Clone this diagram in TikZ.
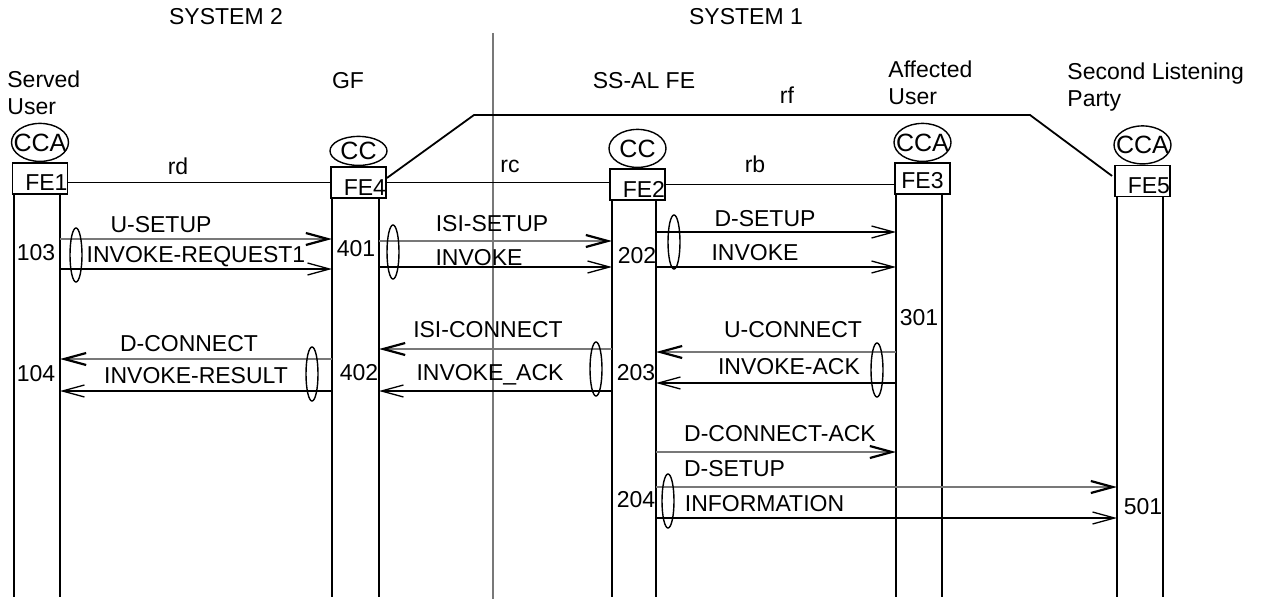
\documentclass[tikz,border=0pt]{standalone}
\usepackage{fontspec}
\setmainfont{Liberation Sans}
\usetikzlibrary{arrows.meta,positioning,shapes.geometric}
\definecolor{SigGray}{RGB}{120,120,120}
\begin{document}
\begin{tikzpicture}[x=0.5pt,y=-0.5pt,font=\fontsize{11.5}{13.5}\selectfont,
  fe/.style={draw,line width=0.9pt,minimum width=27.5pt,minimum height=15.5pt,inner sep=0pt,text width=27.5pt,align=right,text height=12.5pt,text depth=0pt},
  fa/.style={draw,ellipse,line width=0.7pt,inner sep=0pt,minimum width=28.5pt,minimum height=19pt},
  lbl/.style={inner sep=0pt,text height=8pt,text depth=0pt},
  big/.style={lbl,font=\fontsize{12.5}{15}\selectfont,text height=9pt},
  hdr/.style={inner sep=0pt,anchor=north west,align=left},
  life/.style={line width=0.8pt},link/.style={line width=0.9pt},
  sig/.style={line width=0.65pt,-{Straight Barb[length=11pt,width=6pt,black]}},
  sigg/.style={sig,SigGray,line width=1.1pt},
  grp/.style={draw,ellipse,line width=0.7pt,inner sep=0pt,minimum width=6pt,minimum height=27pt}]
\useasboundingbox (0,0) rectangle (1263,599);
\node[lbl] (sys2) at (226,17) {SYSTEM 2};\node[lbl] (sys1) at (746,17) {SYSTEM 1};
\node[hdr] (served) at (7,70) {Served\\User};\node[lbl] (gf) at (348,81) {GF};\node[lbl] (ssal) at (644,81) {SS-AL FE};
\node[hdr] (affected) at (888,60) {Affected\\User};\node[hdr] (second) at (1067,62) {Second Listening\\Party};
\draw[SigGray,line width=1.1pt] (493,33) -- (493,599);
\node[fe] (fe1) at (40,178.5) {FE1};\node[fe] (fe4) at (358.5,182.5) {FE4};\node[fe] (fe2) at (637.5,184.5) {FE2};
\node[fe,align=center,text height=9.5pt] (fe3) at (922.5,178.5) {FE3};\node[fe,text height=12pt] (fe5) at (1142.5,181) {FE5};
\node[fa,above=0pt of fe1,label={[big]center:CCA}] (cca1) {};\node[fa,minimum height=14.5pt,above=0pt of fe4,label={[big]center:CC}] (cc4) {};
\node[fa,above=0pt of fe2,label={[big]center:CC}] (cc2) {};\node[fa,above=0pt of fe3,label={[big]center:CCA}] (cca3) {};
\node[fa,above=0pt of fe5,label={[big]center:CCA}] (cca5) {};
\draw[link] (fe1.east |- fe4.west) -- (fe4.west);\draw[link] (fe4.east) -- (fe4.east -| fe2.west);\draw[link] (fe2.east) -- (fe2.east -| fe3.west);
\coordinate (rf1) at (474,115);\coordinate (rf2) at (1030,115);
\draw[link] ([yshift=2.25pt]fe4.east) -- (rf1) -- (rf2) -- ([yshift=2.5pt,xshift=-1pt]fe5.west);
\node[lbl] (rd) at (178,167) {rd};\node[lbl] (rc) at (510,164) {rc};\node[lbl] (rb) at (755,164) {rb};\node[lbl] (rf) at (787,96) {rf};
\foreach \n/\a/\b in {fe1/14/60,fe4/332/379,fe2/612/656,fe3/896/942,fe5/1117/1163}{
  \coordinate (\n-l) at (\a,597);\coordinate (\n-r) at (\b,597);
  \draw[life] (\n-l |- \n.south) -- (\n-l);\draw[life] (\n-r |- \n.south) -- (\n-r);}
\draw[sigg] (fe1-r |- 0,239) -- (fe4-l |- 0,239);\draw[sig] (fe1-r |- 0,269) -- (fe4-l |- 0,269);
\draw[sigg] (fe4-r |- 0,241) -- (fe2-l |- 0,241);\draw[sig] (fe4-r |- 0,267) -- (fe2-l |- 0,267);
\draw[sig] (fe2-r |- 0,232) -- (fe3-l |- 0,232);\draw[sig] (fe2-r |- 0,267) -- (fe3-l |- 0,267);
\draw[sigg] (fe2-l |- 0,349) -- (fe4-r |- 0,349);\draw[sig] (fe2-l |- 0,391) -- (fe4-r |- 0,391);
\draw[sigg] (fe3-l |- 0,352) -- (fe2-r |- 0,352);\draw[sig] (fe3-l |- 0,383) -- (fe2-r |- 0,383);
\draw[sigg] (fe4-l |- 0,359) -- (fe1-r |- 0,359);\draw[sig] (fe4-l |- 0,391) -- (fe1-r |- 0,391);
\draw[sigg] (fe2-r |- 0,452) -- (fe3-l |- 0,452);
\draw[sigg] (fe2-r |- 0,487) -- (fe5-l |- 0,487);\draw[sig] (fe2-r |- 0,518) -- (fe5-l |- 0,518);
\node[grp] (g103) at (76,255) {};\node[grp] (g401) at (393,252) {};\node[grp] (g202) at (674,242) {};
\node[grp] (g402) at (312,374) {};\node[grp] (g203) at (596,369) {};\node[grp] (g301) at (877,370) {};\node[grp] (g204) at (668,501) {};
\node[lbl] (usetup) at (161,224) {U-SETUP};\node[lbl] (invreq) at (196,254) {INVOKE-REQUEST1};\node[lbl] (n103) at (36,252) {103};
\node[lbl] (isisetup) at (492,223) {ISI-SETUP};\node[lbl] (inv42) at (479,257) {INVOKE};\node[lbl] (n401) at (356,248) {401};
\node[lbl] (n202) at (637,255) {202};\node[lbl] (dsetup) at (765,218) {D-SETUP};\node[lbl] (inv23) at (755,252) {INVOKE};
\node[lbl] (n301) at (919,317) {301};
\node[lbl] (isiconn) at (488,329) {ISI-CONNECT};\node[lbl] (invack24) at (490,372) {INVOKE\_ACK};
\node[lbl] (n402) at (359,372) {402};\node[lbl] (n203) at (636,372) {203};
\node[lbl] (uconn) at (793,329) {U-CONNECT};\node[lbl] (invack32) at (789,366) {INVOKE-ACK};
\node[lbl] (dconn) at (189,343) {D-CONNECT};\node[lbl] (invres) at (196,375) {INVOKE-RESULT};\node[lbl] (n104) at (36,373) {104};
\node[lbl] (dconnack) at (780,433) {D-CONNECT-ACK};\node[lbl] (dsetup25) at (734.5,468) {D-SETUP};\node[lbl] (info) at (764.5,503) {INFORMATION};
\node[lbl] (n204) at (636,499) {204};\node[lbl] (n501) at (1143,506) {501};
\end{tikzpicture}
\end{document}
